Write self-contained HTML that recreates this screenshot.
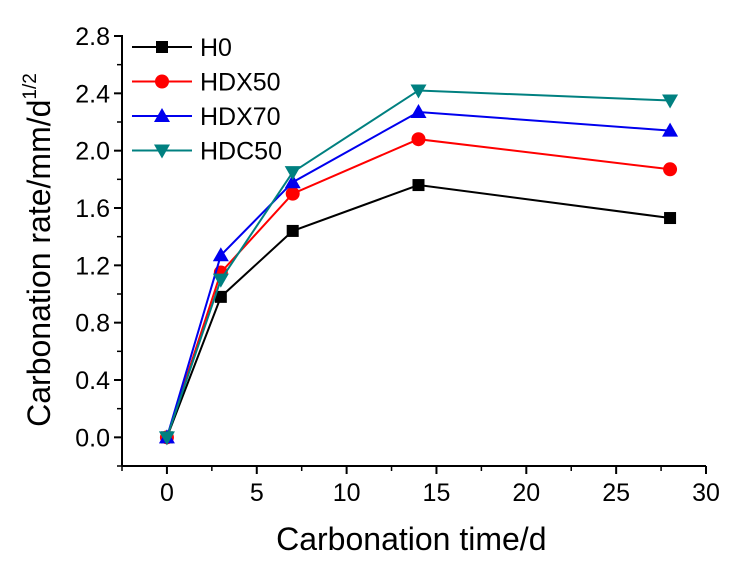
<!DOCTYPE html>
<html><head><meta charset="utf-8"><style>
body{margin:0;background:#fff}
svg text{font-family:"Liberation Sans",Arial,sans-serif}
</style></head><body>
<svg id="c" width="736" height="566"></svg>
<script>
const times=[0,3,7,14,28];
const seriesNames=["H0","HDX50","HDX70","HDC50"];
const h0=[0,0.98,1.44,1.76,1.53];
const hdx50=[0,1.15,1.70,2.08,1.87];
const hdx70=[0,1.27,1.78,2.27,2.14];
const hdc50=[0,1.10,1.85,2.42,2.35];
const xTicks=[0,5,10,15,20,25,30];
const yTicks=["0.0","0.4","0.8","1.2","1.6","2.0","2.4","2.8"];

const NS="http://www.w3.org/2000/svg";
const svg=document.getElementById('c');
const X0=122,X1=706,Y0=466,Y1=36;
const xMin=-2.5,xMax=30,yMin=-0.2,yMax=2.8;
function sx(v){return X0+(v-xMin)/(xMax-xMin)*(X1-X0);}
function sy(v){return Y0-(v-yMin)/(yMax-yMin)*(Y0-Y1);}
function mk(t,a,p){const e=document.createElementNS(NS,t);for(const k in a)e.setAttribute(k,a[k]);(p||svg).appendChild(e);return e;}

let ax=mk('line',{x1:X0,y1:Y0,x2:X1,y2:Y0,stroke:'#000','stroke-width':2});


let ay=mk('line',{x1:X0,y1:Y0,x2:X0,y2:Y1-1,stroke:'#000','stroke-width':2});



xTicks.forEach(v=>{
  mk('line',{x1:sx(v),y1:Y0,x2:sx(v),y2:Y0+8,stroke:'#000','stroke-width':2});
  mk('line',{x1:sx(v-2.5),y1:Y0,x2:sx(v-2.5),y2:Y0+5,stroke:'#000','stroke-width':1.5});
  const t=mk('text',{x:sx(v),y:Y0+35,'text-anchor':'middle','font-size':25});
  t.textContent=v;
  
  
});
yTicks.forEach(s=>{
  const v=parseFloat(s);
  mk('line',{x1:X0,y1:sy(v),x2:X0-8,y2:sy(v),stroke:'#000','stroke-width':2});
  mk('line',{x1:X0,y1:sy(v-0.2),x2:X0-5,y2:sy(v-0.2),stroke:'#000','stroke-width':1.5});
  const t=mk('text',{x:X0-12,y:sy(v)+9,'text-anchor':'end','font-size':25});
  t.textContent=s;
  
  
});
let xt=mk('text',{x:sx(13.6),y:550,'text-anchor':'middle','font-size':32});
xt.textContent='Carbonation time/d';


let yt=mk('text',{transform:'translate(50,250) rotate(-90)','text-anchor':'middle','font-size':32});
yt.innerHTML='Carbonation rate/mm/d<tspan dy="-14" font-size="19">1/2</tspan>';



const colors=['#000000','#ff0000','#0000ee','#008080'];
const shapes=['square','circle','up','down'];
function marker(g,shape,x,y,c){
  if(shape==='square')mk('rect',{x:x-6,y:y-6,width:12,height:12,fill:c},g);
  else if(shape==='circle')mk('circle',{cx:x,cy:y,r:7,fill:c},g);
  else if(shape==='up')mk('polygon',{points:`${x},${y-8} ${x-8},${y+6} ${x+8},${y+6}`,fill:c},g);
  else mk('polygon',{points:`${x},${y+8} ${x-8},${y-6} ${x+8},${y-6}`,fill:c},g);
}
[h0,hdx50,hdx70,hdc50].forEach((d,i)=>{
  const g=mk('g',{});
  
  
  mk('polyline',{points:d.map((v,j)=>sx(times[j])+','+sy(v)).join(' '),fill:'none',stroke:colors[i],'stroke-width':2},g);
  d.forEach((v,j)=>marker(g,shapes[i],sx(times[j]),sy(v),colors[i]));
  const ly=47+i*34.5;
  const lg=mk('g',{});
  
  
  mk('line',{x1:132,y1:ly,x2:192,y2:ly,stroke:colors[i],'stroke-width':2},lg);
  marker(lg,shapes[i],162,ly,colors[i]);
  const t=mk('text',{x:200,y:ly+9,'font-size':25},lg);
  t.textContent=seriesNames[i];
});
</script>
</body></html>
